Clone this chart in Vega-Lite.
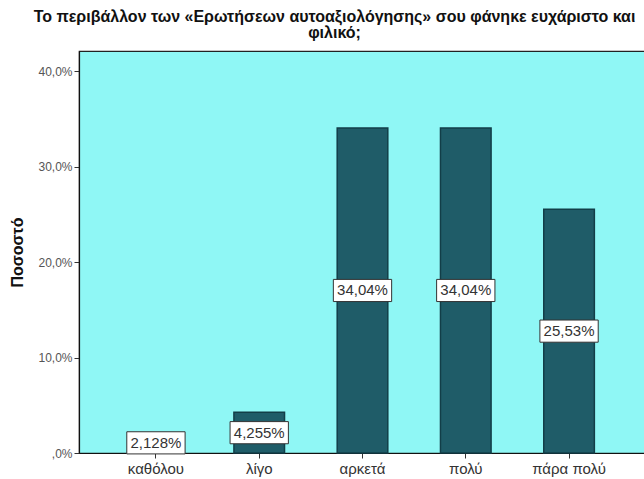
{
  "$schema": "https://vega.github.io/schema/vega-lite/v6.json",
  "autosize": "none",
  "width": 567,
  "height": 402,
  "padding": {"left": 79, "top": 51, "right": 0, "bottom": 26},
  "background": "white",
  "title": {
    "text": ["Το περιβάλλον των «Ερωτήσεων αυτοαξιολόγησης» σου φάνηκε ευχάριστο και", "φιλικό;"],
    "font": "Liberation Sans",
    "fontSize": 16,
    "fontWeight": "bold",
    "color": "#111",
    "anchor": "middle",
    "dx": -28,
    "lineHeight": 16,
    "offset": 10
  },
  "config": {
    "view": {"fill": "#8ff7f5", "stroke": "#222", "strokeWidth": 1.2},
    "font": "Liberation Sans"
  },
  "data": {
    "values": [
      {"cat": "καθόλου", "pct": 2.128, "label": "2,128%"},
      {"cat": "λίγο", "pct": 4.255, "label": "4,255%"},
      {"cat": "αρκετά", "pct": 34.04, "label": "34,04%"},
      {"cat": "πολύ", "pct": 34.04, "label": "34,04%"},
      {"cat": "πάρα πολύ", "pct": 25.53, "label": "25,53%"}
    ]
  },
  "encoding": {
    "x": {
      "field": "cat",
      "type": "nominal",
      "sort": null,
      "scale": {"paddingInner": 0.51, "paddingOuter": 0.5},
      "axis": {
        "title": null,
        "labelAngle": 0,
        "labelFontSize": 15,
        "labelColor": "#333",
        "labelPadding": 3,
        "tickColor": "#333",
        "tickSize": 5,
        "domainColor": "#111",
        "domainWidth": 1.2,
        "grid": false
      }
    }
  },
  "layer": [
    {
      "mark": {"type": "bar", "color": "#1f5c68", "stroke": "#123e48", "strokeWidth": 1.5},
      "encoding": {
        "y": {
          "field": "pct",
          "type": "quantitative",
          "scale": {"domain": [0, 42.1], "nice": false},
          "axis": {
            "title": "Ποσοστό",
            "titleFontSize": 16,
            "titleFontWeight": "bold",
            "titleColor": "#111",
            "titlePadding": 12,
            "values": [0, 10, 20, 30, 40],
            "labelExpr": "datum.value == 0 ? ',0%' : replace(format(datum.value, '.1f'), '.', ',') + '%'",
            "labelFontSize": 12,
            "labelColor": "#555",
            "labelPadding": 2,
            "tickColor": "#333",
            "tickSize": 5,
            "domainColor": "#111",
            "domainWidth": 1.2,
            "grid": false
          }
        }
      }
    },
    {
      "encoding": {
        "y": {
          "field": "pct",
          "type": "quantitative",
          "scale": {"domain": [0, 84.2], "nice": false},
          "axis": null
        }
      },
      "layer": [
        {
          "mark": {
            "type": "point",
            "shape": "M-1,-0.38H1V0.38H-1Z",
            "filled": true,
            "fill": "white",
            "stroke": "#333",
            "strokeWidth": 1,
            "opacity": 1,
            "size": 3400
          }
        },
        {
          "mark": {"type": "text", "fontSize": 15, "color": "#333", "baseline": "middle"},
          "encoding": {"text": {"field": "label"}}
        }
      ]
    }
  ],
  "resolve": {"scale": {"y": "independent"}}
}
